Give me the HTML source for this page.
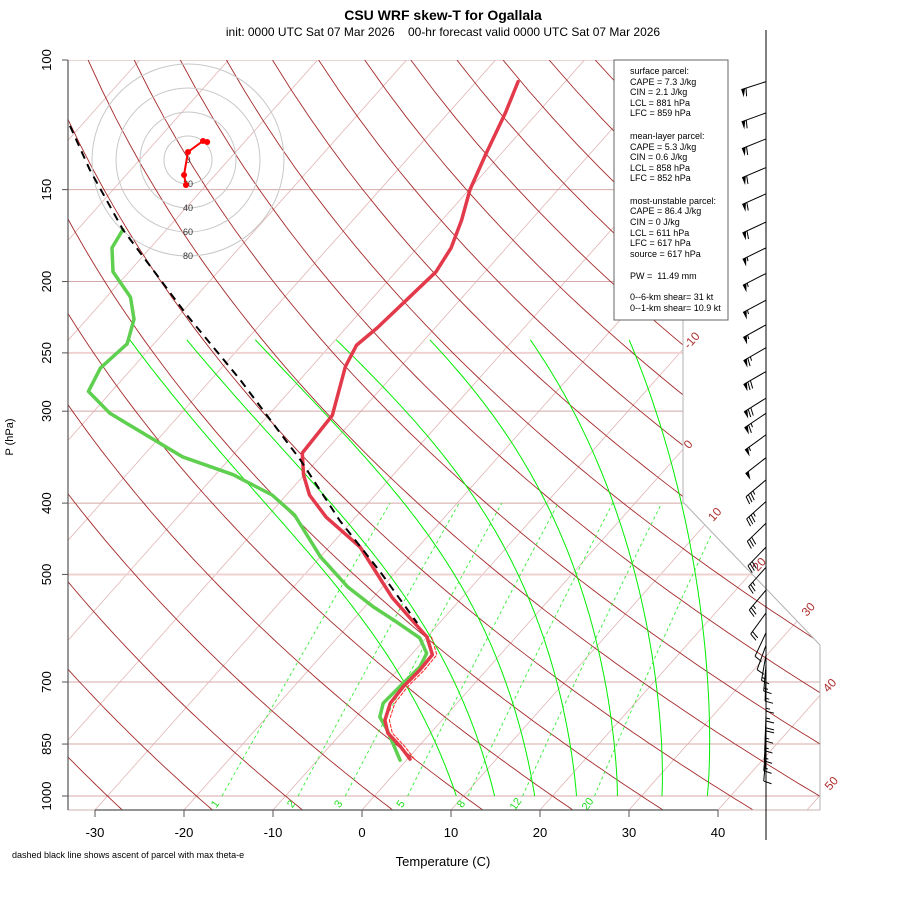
<!DOCTYPE html>
<html><head><meta charset="utf-8"><title>CSU WRF skew-T for Ogallala</title>
<style>
html,body{margin:0;padding:0;background:#fff;}
svg{display:block;font-family:"Liberation Sans",Arial,sans-serif;}
</style></head>
<body>
<svg id="chart" width="900" height="900" viewBox="0 0 900 900" xmlns="http://www.w3.org/2000/svg">
<defs>
<clipPath id="plotclip"><polygon points="68,60 683,60 683,502 820,645 820,810 68,810"/></clipPath>
</defs>
<text x="443" y="20" text-anchor="middle" font-size="14" font-weight="bold">CSU WRF skew-T for Ogallala</text>
<text x="443" y="36" text-anchor="middle" font-size="12" xml:space="preserve">init: 0000 UTC Sat 07 Mar 2026    00-hr forecast valid 0000 UTC Sat 07 Mar 2026</text>
<g id="grid" clip-path="url(#plotclip)"></g>
<g id="frame">
<line x1="683" y1="60" x2="683" y2="502" stroke="#b0b0b0" stroke-width="1"/>
<line x1="683" y1="502" x2="820" y2="645" stroke="#b0b0b0" stroke-width="1"/>
<line x1="820" y1="645" x2="820" y2="810" stroke="#b0b0b0" stroke-width="1"/>
<line x1="68" y1="810" x2="820" y2="810" stroke="#c8b0b0" stroke-width="1"/>
<line x1="68" y1="60" x2="68" y2="810" stroke="#555" stroke-width="1.2"/>
</g>
<g id="labels"></g>
<g id="hodo"></g>
<g id="profiles" clip-path="url(#plotclip)"></g>
<g id="barbs">
<line x1="766" y1="30" x2="766" y2="840" stroke="#000" stroke-width="1"/>
</g>
<g>
<rect x="614" y="60" width="114" height="260" fill="#fff" stroke="#666" stroke-width="1"/>
<g font-size="9" fill="#000">
<text x="630" y="74">surface parcel:</text>
<text x="630" y="85">CAPE = 7.3 J/kg</text>
<text x="630" y="95">CIN = 2.1 J/kg</text>
<text x="630" y="106">LCL = 881 hPa</text>
<text x="630" y="116">LFC = 859 hPa</text>
<text x="630" y="139">mean-layer parcel:</text>
<text x="630" y="150">CAPE = 5.3 J/kg</text>
<text x="630" y="160">CIN = 0.6 J/kg</text>
<text x="630" y="171">LCL = 858 hPa</text>
<text x="630" y="181">LFC = 852 hPa</text>
<text x="630" y="204">most-unstable parcel:</text>
<text x="630" y="214">CAPE = 86.4 J/kg</text>
<text x="630" y="225">CIN = 0 J/kg</text>
<text x="630" y="236">LCL = 611 hPa</text>
<text x="630" y="246">LFC = 617 hPa</text>
<text x="630" y="257">source = 617 hPa</text>
<text x="630" y="279" xml:space="preserve">PW =  11.49 mm</text>
<text x="630" y="300">0--6-km shear= 31 kt</text>
<text x="630" y="311">0--1-km shear= 10.9 kt</text>
</g>
</g>
<text x="443" y="866" text-anchor="middle" font-size="13">Temperature (C)</text>
<text transform="translate(13,437) rotate(-90)" text-anchor="middle" font-size="11">P (hPa)</text>
<text x="12" y="858" font-size="9">dashed black line shows ascent of parcel with max theta-e</text>
</svg>
<script>
// ---- data ----
const tempP = [107,118,134,150,165,180,194,212,231,244,261,304,342,366,390,418,459,537,573,608,643,675,711,748,789,821,857,891];
const tempT = [-55.3,-53.6,-51.7,-49.9,-47.8,-46.2,-45.5,-46.0,-46.5,-47.1,-46.2,-42.8,-42.4,-40.1,-37.4,-33.3,-26.5,-17.9,-13.8,-10.0,-7.6,-7.5,-7.7,-7.5,-6.4,-4.8,-2.0,0.3];
const dewP = [170,180,194,210,225,243,262,282,302,346,366,390,415,473,520,553,581,610,640,668,711,748,781,813,894];
const dewT = [-84.9,-84.3,-81.8,-77.3,-74.7,-73.0,-73.6,-72.6,-68.0,-55.5,-48.0,-41.6,-37.1,-30.0,-23.9,-19.1,-14.8,-10.7,-8.4,-7.8,-8.1,-8.3,-7.3,-5.2,-0.7];
const parcelP = [109,141,170,222,272,349,422,494,582];
const parcelT = [-107,-94.6,-84.9,-69.2,-56.7,-42.0,-31.5,-22.0,-12.5];
const tvP = [608,643,675,711,748,789,821,857,891];
const tvT = [-9.5,-7.1,-7.0,-7.2,-7.0,-5.9,-4.3,-1.5,0.8];
const pressureTicks = [100,150,200,250,300,400,500,700,850,1000];
const tempTicks = [-30,-20,-10,0,10,20,30,40];
const isothermLabels = [-10,0,10,20,30,40,50];
const mixingRatios = [1,2,3,5,8,12,20];
const moistT1000 = [9.2,13.5,18,22.7,27.3,32.3,37.4];
const moistT240 = [-73.1,-66.7,-59.0,-49.9,-39.4,-28.1,-17.0];
const barbP = [107,118,128,140,152,166,180,195,212,229,246,265,288,302,323,347,372,398,426,459,489,525,564,600,624,643,664,685,707,729,752,776,800,826,852,880];
const barbDir = [252,250,248,247,246,245,244,243,242,241,240,240,238,236,234,232,230,228,226,224,222,220,216,205,200,190,185,182,180,180,180,182,183,184,185,185];
const barbSpd = [60,60,60,60,60,60,55,55,55,55,65,70,70,65,55,50,35,35,30,30,25,25,20,10,10,15,15,15,15,15,20,15,15,15,15,10];
const hodoU = [16,12.5,0,-3.3,-1.7];
const hodoV = [15,15.8,6.7,-12.5,-20.8];
const hodoRings = [20,40,60,80];

// ---- axes ----
const NS = 'http://www.w3.org/2000/svg';
function yP(p){ return 796 - 736*Math.log10(1000/p); }
function xT(T,p){ const y=yP(p); return 362 + 8.9*T + 0.89*(810-y); }
function xTy(T,y){ return 362 + 8.9*T + 0.89*(810-y); }
function mk(tag, attrs, parent){ const e=document.createElementNS(NS,tag); for(const k in attrs) e.setAttribute(k,attrs[k]); parent.appendChild(e); return e; }
function es(Tc){ return 6.112*Math.exp(17.67*Tc/(Tc+243.5)); }

const grid = document.getElementById('grid');
const labels = document.getElementById('labels');

// isotherms
for(let T=-160; T<=60; T+=10){
  const l = mk('line',{x1:xTy(T,810),y1:810,x2:xTy(T,40),y2:40,stroke:'#e2b4b4','stroke-width':0.8},grid);
  
  
}
// pressure lines
pressureTicks.forEach(p=>{
  const light = (p===250||p===500);
  const l = mk('line',{x1:68,y1:yP(p),x2:820,y2:yP(p),stroke: light?'#f0d2d2':'#d4a8a8','stroke-width': light?2:1},grid);
  
  
});
// dry adiabats
for(let th=-40; th<=220; th+=10){
  let pts=[];
  for(let p=1060; p>=95; p-=10){ const T=(th+273.15)*Math.pow(p/1000,0.2857)-273.15; pts.push(xT(T,p).toFixed(1)+','+yP(p).toFixed(1)); }
  const l = mk('polyline',{points:pts.join(' '),fill:'none',stroke:'#a52a2a','stroke-width':0.9},grid);
  
  
}
// moist adiabats: pseudo-adiabat shape, corrected to hit the 240 hPa end temperature
moistT1000.forEach((T0,i)=>{
  let T=T0+273.15, raw=[];
  for(let p=1000; p>=240; p-=5){
    raw.push([p,T-273.15]);
    const e=es(T-273.15), rs=0.622*e/(p-e), Lv=2.5e6, Rd=287, cp=1004;
    const dTdp=(Rd*T+Lv*rs)/(cp+Lv*Lv*rs*0.622/(Rd*T*T))/p;
    T -= dTdp*5;
  }
  const topErr = moistT240[i]-raw[raw.length-1][1];
  const ybot=yP(1000), ytop=yP(240);
  const pts=raw.map(([p,t])=>{
    const w=Math.pow((yP(p)-ybot)/(ytop-ybot),1.6);
    return xT(t+topErr*w,p).toFixed(1)+','+yP(p).toFixed(1);
  });
  const l = mk('polyline',{points:pts.join(' '),fill:'none',stroke:'#00ee00','stroke-width':1},grid);
  
  
});
// mixing ratio lines
mixingRatios.forEach(w=>{
  let pts=[];
  for(let p=1000; p>=400; p-=20){
    const e=w*p/(622+w), a=Math.log(e/6.112), Td=243.5*a/(17.67-a);
    pts.push(xT(Td,p).toFixed(1)+','+yP(p).toFixed(1));
  }
  const l = mk('polyline',{points:pts.join(' '),fill:'none',stroke:'#33ee33','stroke-width':0.9,'stroke-dasharray':'3,3'},grid);
  
  
  const a=Math.log((w*1000/(622+w))/6.112), Td=243.5*a/(17.67-a);
  const lx=xT(Td,1000)-4, ly=806;
  const t = mk('text',{x:lx,y:ly,'font-size':11,fill:'#22dd22','text-anchor':'middle',transform:'rotate(-55 '+lx+' '+ly+')'},labels);
  t.textContent=w;
  
  
});
// isotherm labels
const isoLabelY = {'-10':343,'0':447,'10':517,'20':567,'30':612,'40':688,'50':786};
isothermLabels.forEach(T=>{
  const y=isoLabelY[T], x=xTy(T,y)+6;
  const t = mk('text',{x:x,y:y,'font-size':12,fill:'#b03030','text-anchor':'middle',transform:'rotate(-48 '+x+' '+y+')'},labels);
  t.textContent=T;
  
  
});
// y ticks
pressureTicks.forEach(p=>{
  const y=yP(p);
  const tk = mk('line',{x1:62,y1:y,x2:68,y2:y,stroke:'#555'},labels);
  
  
  const t = mk('text',{x:51,y:y,'font-size':13,'text-anchor':'middle',transform:'rotate(-90 51 '+y+')'},labels);
  t.textContent=p;
  
  
});
// x ticks
mk('line',{x1:xTy(-30,810),y1:810,x2:xTy(40,810),y2:810,stroke:'#555','stroke-width':1.2},labels);
tempTicks.forEach(T=>{
  const x=xTy(T,810);
  const tk = mk('line',{x1:x,y1:810,x2:x,y2:817,stroke:'#555'},labels);
  
  
  const t = mk('text',{x:x,y:837,'font-size':13,'text-anchor':'middle'},labels);
  t.textContent=T;
  
  
});

// ---- hodograph ----
const hodo=document.getElementById('hodo');
const hcx=188, hcy=160, hk=1.2;
hodoRings.forEach(r=>{
  const c = mk('circle',{cx:hcx,cy:hcy,r:r*hk,fill:'none',stroke:'#c8c8c8','stroke-width':1},hodo);
  
  
});
[0].concat(hodoRings).forEach(r=>{
  const t = mk('text',{x:hcx,y:hcy+r*hk+3,'font-size':9,'text-anchor':'middle',fill:'#333'},hodo);
  t.textContent=r;
  
  
});
const hpts = hodoU.map((u,i)=>(hcx+u*hk).toFixed(1)+','+(hcy-hodoV[i]*hk).toFixed(1)).join(' ');
const hl = mk('polyline',{points:hpts,fill:'none',stroke:'#ff0000','stroke-width':2},hodo);


hodoU.forEach((u,i)=>{
  const c = mk('circle',{cx:hcx+u*hk,cy:hcy-hodoV[i]*hk,r:3,fill:'#ff0000'},hodo);
  
  
});

// ---- profiles ----
const prof=document.getElementById('profiles');
function line(P,T,attrs){
  const pts=P.map((p,i)=>xT(T[i],p).toFixed(1)+','+yP(p).toFixed(1)).join(' ');
  const a=Object.assign({points:pts,fill:'none','stroke-linejoin':'round','stroke-linecap':'round'},attrs);
  return mk('polyline',a,prof);
}
const tvl = line(tvP,tvT,{stroke:'#ff2020','stroke-width':1,'stroke-dasharray':'3,2'});


const dl = line(dewP,dewT,{stroke:'#5fcf4f','stroke-width':3.5});


const tl = line(tempP,tempT,{stroke:'#e23a4a','stroke-width':3.5});


const pl = line(parcelP,parcelT,{stroke:'#000','stroke-width':2,'stroke-dasharray':'8,6','stroke-linecap':'butt'});



// ---- wind barbs ----
const bg=document.getElementById('barbs');
barbP.forEach((p,i)=>{
  const g=mk('g',{},bg);
  
  
  const d=barbDir[i]*Math.PI/180, L=26;
  const sx=Math.sin(d), sy=-Math.cos(d);
  const bx=766, by=yP(p);
  const tx=bx+sx*L, ty=by+sy*L;
  mk('line',{x1:bx,y1:by,x2:tx,y2:ty,stroke:'#000','stroke-width':1},g);
  const px=sy, py=-sx;
  let spd=Math.round(barbSpd[i]/5)*5, pos=0;
  while(spd>=50){
    const ax=tx-sx*pos, ay=ty-sy*pos, cx2=tx-sx*(pos+4), cy2=ty-sy*(pos+4);
    mk('polygon',{points:ax+','+ay+' '+cx2+','+cy2+' '+(ax+px*8)+','+(ay+py*8),fill:'#000'},g);
    pos+=5; spd-=50;
  }
  while(spd>=10){
    const ax=tx-sx*pos, ay=ty-sy*pos;
    mk('line',{x1:ax,y1:ay,x2:ax+px*8+sx*2,y2:ay+py*8+sy*2,stroke:'#000','stroke-width':1},g);
    pos+=3; spd-=10;
  }
  if(spd>=5){
    const ax=tx-sx*pos, ay=ty-sy*pos;
    mk('line',{x1:ax,y1:ay,x2:ax+px*4+sx,y2:ay+py*4+sy,stroke:'#000','stroke-width':1},g);
  }
});
</script>
</body></html>
